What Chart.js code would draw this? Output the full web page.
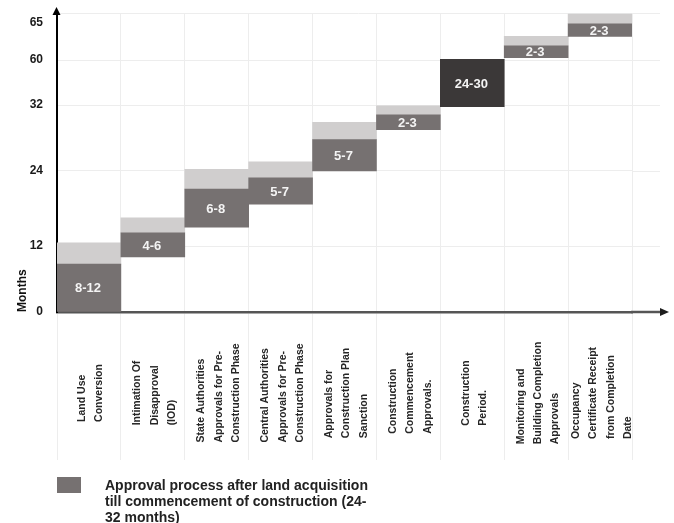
<!DOCTYPE html>
<html>
<head>
<meta charset="utf-8">
<script src="https://cdn.jsdelivr.net/npm/chart.js@4/dist/chart.umd.min.js"></script>
<style>
  html, body { margin: 0; padding: 0; background: #ffffff; }
  #wrap { position: relative; width: 674px; height: 523px; overflow: hidden; }
  #c { position: absolute; left: 0; top: 0; }
  #legSwatch { position: absolute; left: 57px; top: 477px; width: 24px; height: 16px; background: #767171; }
  #legText { position: absolute; left: 105px; top: 477px; font: bold 14px/16px "Liberation Sans", Arial, sans-serif; color: #222222; white-space: nowrap; }
</style>
</head>
<body>
<div id="wrap">
  <canvas id="c" width="674" height="523"></canvas>
  <div id="legSwatch"></div>
  <div id="legText"></div>
</div>
<script>
// ---------- data ----------
const categories = [
  ["Land Use", "Conversion"],
  ["Intimation Of", "Disapproval", "(IOD)"],
  ["State Authorities", "Approvals for Pre-", "Construction Phase"],
  ["Central Authorities", "Approvals for Pre-", "Construction Phase"],
  ["Approvals for", "Construction Plan", "Sanction"],
  ["Construction", "Commencement", "Approvals."],
  ["Construction", "Period."],
  ["Monitoring and", "Building Completion", "Approvals"],
  ["Occupancy", "Certificate Receipt", "from Completion", "Date"]
];
// months (read against the axis ticks)
const darkStart = [0, 10, 15, 18.7, 24, 29, 31.8, 60.3, 63.2];
const darkEnd   = [8.7, 14.1, 21.1, 22.9, 27.8, 30.8, 60.1, 61.9, 64.9];
const lightEnd  = [12.5, 16.5, 24.2, 25.1, 29.9, 31.9, null, 63.2, 66.2];
const barLabels = ["8-12", "4-6", "6-8", "5-7", "5-7", "2-3", "24-30", "2-3", "2-3"];
const yTicks = [0, 12, 24, 32, 60, 65];
const yTickLabels = ["0", "12", "24", "32", "60", "65"];
const legendLines = ["Approval process after land acquisition", "till commencement of construction (24-", "32 months)"];

// ---------- axis layout (share of plot height at each tick; the original axis is not linear) ----------
const yTickFractions = [0, 0.2207, 0.4716, 0.6923, 0.8428, 0.9666];

const COLOR_DARK = '#767171';
const COLOR_DARKEST = '#3b3838';
const COLOR_LIGHT = '#d0cece';
const GRID = '#ededed';

document.getElementById('legText').innerHTML = legendLines.join('<br>');

class KnotScale extends Chart.LinearScale {
  buildTicks() { return yTicks.map(v => ({ value: v })); }
  getPixelForValue(value) {
    const v = +value, t = yTicks, f = yTickFractions;
    let i = 0;
    while (i < t.length - 2 && v > t[i + 1]) i++;
    const d = f[i] + (v - t[i]) * (f[i + 1] - f[i]) / (t[i + 1] - t[i]);
    return this.getPixelForDecimal(d);
  }
  getValueForPixel(pixel) {
    const d = this.getDecimalForPixel(pixel), t = yTicks, f = yTickFractions;
    let i = 0;
    while (i < f.length - 2 && d > f[i + 1]) i++;
    return t[i] + (d - f[i]) * (t[i + 1] - t[i]) / (f[i + 1] - f[i]);
  }
}
KnotScale.id = 'knot';
KnotScale.defaults = Chart.LinearScale.defaults;
Chart.register(KnotScale);

Chart.defaults.font.family = '"Liberation Sans", Arial, sans-serif';

const decorPlugin = {
  id: 'decor',
  beforeDatasetsDraw(chart) {
    const ctx = chart.ctx, a = chart.chartArea, ys = chart.scales.y;
    ctx.save();
    ctx.strokeStyle = GRID; ctx.lineWidth = 1;
    ctx.beginPath();
    ctx.moveTo(a.left, a.top + 0.5); ctx.lineTo(a.right + 28, a.top + 0.5);
    yTicks.forEach(v => {
      if (v === 0 || v === 65) return;
      const p = Math.round(ys.getPixelForValue(v)) + 0.5;
      ctx.moveTo(a.right, p); ctx.lineTo(a.right + 28, p);
    });
    ctx.stroke();
    ctx.restore();
  },
  afterDatasetsDraw(chart) {
    const ctx = chart.ctx;
    const meta = chart.getDatasetMeta(0);
    ctx.save();
    ctx.font = 'bold 13px "Liberation Sans", Arial, sans-serif';
    ctx.fillStyle = '#f4f4f4';
    ctx.textAlign = 'center'; ctx.textBaseline = 'middle';
    meta.data.forEach((el, i) => {
      ctx.fillText(barLabels[i], el.x - 1, (el.y + el.base) / 2 + 1);
    });
    ctx.restore();
  },
  afterDraw(chart) {
    const ctx = chart.ctx, a = chart.chartArea, xs = chart.scales.x;
    ctx.save();
    ctx.strokeStyle = '#555555'; ctx.lineWidth = 2.5;
    ctx.beginPath(); ctx.moveTo(a.right - 1, a.bottom); ctx.lineTo(a.right + 30, a.bottom); ctx.stroke();
    ctx.fillStyle = '#1e1e1e';
    ctx.beginPath();
    ctx.moveTo(a.right + 37, a.bottom);
    ctx.lineTo(a.right + 28, a.bottom - 4);
    ctx.lineTo(a.right + 28, a.bottom + 4);
    ctx.closePath(); ctx.fill();
    ctx.strokeStyle = '#000000'; ctx.lineWidth = 2;
    ctx.beginPath(); ctx.moveTo(a.left - 0.5, a.top + 1); ctx.lineTo(a.left - 0.5, a.top - 2); ctx.stroke();
    ctx.fillStyle = '#000000';
    ctx.beginPath();
    ctx.moveTo(a.left - 0.5, a.top - 6);
    ctx.lineTo(a.left - 4.5, a.top + 2);
    ctx.lineTo(a.left + 3.5, a.top + 2);
    ctx.closePath(); ctx.fill();

    ctx.font = 'bold 10.5px "Liberation Sans", Arial, sans-serif';
    ctx.fillStyle = '#262626';
    ctx.textAlign = 'left'; ctx.textBaseline = 'middle';
    const lh = 17.3, cy = a.bottom + 81;
    categories.forEach((lines, i) => {
      const cx = xs.getPixelForValue(i) + 2;
      const w = Math.max(...lines.map(l => ctx.measureText(l).width));
      const startY = cy + w / 2;
      lines.forEach((line, j) => {
        const x = cx + (j - (lines.length - 1) / 2) * lh;
        ctx.save();
        ctx.translate(x, startY);
        ctx.rotate(-Math.PI / 2);
        ctx.fillText(line, 0, 0);
        ctx.restore();
      });
    });
    ctx.restore();
  }
};

new Chart(document.getElementById('c'), {
  type: 'bar',
  data: {
    labels: categories,
    datasets: [
      {
        label: 'Approval process',
        data: categories.map((c, i) => [darkStart[i], darkEnd[i]]),
        backgroundColor: barLabels.map((l, i) => i === 6 ? COLOR_DARKEST : COLOR_DARK),
        grouped: false,
        barPercentage: 1,
        categoryPercentage: 1,
        borderWidth: 0,
        order: 1
      },
      {
        label: 'Upper range',
        data: categories.map((c, i) => lightEnd[i] == null ? null : [darkEnd[i], lightEnd[i]]),
        backgroundColor: COLOR_LIGHT,
        grouped: false,
        barPercentage: 1,
        categoryPercentage: 1,
        borderWidth: 0,
        order: 2
      }
    ]
  },
  options: {
    responsive: false,
    animation: false,
    layout: { padding: { top: 13, right: 42, bottom: 63, left: 0 } },
    plugins: { legend: { display: false }, tooltip: { enabled: false } },
    scales: {
      x: {
        type: 'category',
        offset: true,
        grid: { offset: true, color: GRID, lineWidth: 1, drawTicks: true, tickLength: 148 },
        border: { display: true, color: '#555555', width: 2.5 },
        ticks: { display: false },
        afterFit(scale) { scale.paddingLeft = 0; scale.paddingRight = 0; }
      },
      y: {
        type: 'knot',
        min: 0,
        max: 66.4,
        grid: {
          color: ctx => (ctx.tick && ctx.tick.value === 65) ? 'rgba(0,0,0,0)' : GRID,
          drawTicks: false
        },
        border: { display: true, color: '#000000', width: 2 },
        ticks: {
          padding: 14,
          color: '#1a1a1a',
          font: { size: 12, weight: 'bold' },
          callback: (v, i) => yTickLabels[i]
        },
        title: {
          display: true,
          text: 'Months',
          align: 'start',
          color: '#111111',
          font: { size: 12, weight: 'bold' },
          padding: { top: 15, bottom: 0 }
        },
        afterFit(scale) { scale.width = 57; scale.paddingTop = 0; scale.paddingBottom = 0; }
      }
    }
  },
  plugins: [decorPlugin]
});
</script>
</body>
</html>
